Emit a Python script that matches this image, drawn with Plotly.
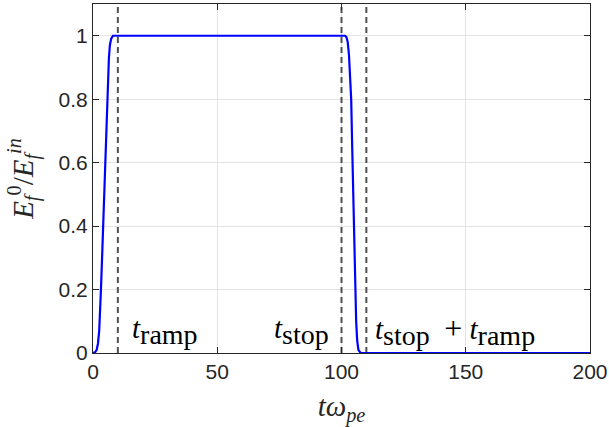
import plotly.graph_objects as go

# ---- data ----
t_values = [0, 0.8, 1.5, 2.0, 2.5, 2.9, 3.2, 3.7, 4.2, 4.7, 5.2, 5.5, 5.8, 6.1, 6.4, 6.8, 7.3, 8.0, 10,
            50, 100, 101.5, 102.0, 102.5, 103.0, 103.4, 103.9, 104.3, 104.7, 105.1, 105.5, 105.9,
            106.3, 106.8, 107.5, 108.0, 110, 150, 200]
E_values = [0, 0.002, 0.01, 0.03, 0.07, 0.13, 0.2, 0.31, 0.43, 0.55, 0.66, 0.73, 0.8, 0.87, 0.93, 0.97,
            0.99, 1.0, 1.0,
            1.0, 1.0, 1.0, 0.995, 0.98, 0.94, 0.88, 0.8, 0.65, 0.5, 0.35, 0.2, 0.1,
            0.04, 0.01, 0.002, 0.0, 0.0, 0.0, 0.0]

vline_x = [10, 100, 110]

SUB = "<sub><span style='font-size:28px'>{}</span></sub>"
label_texts = ["<i>t</i>" + SUB.format("ramp"),
               "<i>t</i>" + SUB.format("stop"),
               "<i>t</i>" + SUB.format("stop") + "&nbsp; <span style='font-size:32px'>+</span> <i>t</i>" + SUB.format("ramp")]
label_x = [15, 72, 112.5]
label_y = [0.07, 0.07, 0.07]

x_ticks = [0, 50, 100, 150, 200]
y_ticks = [0, 0.2, 0.4, 0.6, 0.8, 1]
y_tick_labels = ["0", "0.2", "0.4", "0.6", "0.8", "1"]

AX = "#262626"
serif = "Liberation Serif"

fig = go.Figure()

for xv in vline_x:
    fig.add_trace(go.Scatter(x=[xv, xv], y=[0, 1.1], mode="lines",
                             line=dict(color="#505050", width=2, dash="6px,4px"),
                             hoverinfo="skip", showlegend=False))

fig.add_trace(go.Scatter(x=t_values, y=E_values, mode="lines",
                         line=dict(color="#0000ff", width=2.2), showlegend=False))

for txt, xx, yy in zip(label_texts, label_x, label_y):
    fig.add_annotation(x=xx, y=yy, text=txt, showarrow=False, xanchor="left", yanchor="middle",
                       font=dict(family=serif, size=29, color="black"))

fig.update_layout(
    width=609, height=427,
    margin=dict(l=93, r=19, t=4, b=74),
    paper_bgcolor="white", plot_bgcolor="white",
    font=dict(family="Liberation Sans", size=21, color=AX),
    xaxis=dict(range=[0, 200], tickvals=x_ticks, ticks="inside", ticklen=6, tickcolor=AX,
               showline=True, linecolor=AX, linewidth=1, mirror="ticks", automargin=False,
               showgrid=True, gridcolor="#e3e3e3", gridwidth=1, zeroline=False,
               title=dict(text="<i>t</i><i>ω</i><sub><i>pe</i></sub>",
                          font=dict(family=serif, size=29, color=AX), standoff=18)),
    yaxis=dict(range=[0, 1.1], tickvals=y_ticks, ticktext=y_tick_labels, ticks="inside", ticklen=6,
               tickcolor=AX, showline=True, linecolor=AX, linewidth=1, mirror="ticks", automargin=False,
               showgrid=True, gridcolor="#e3e3e3", gridwidth=1, zeroline=False,
               title=dict(text="<i>E</i><sub><i>f</i></sub><sup>0</sup>/<i>E</i><sub><i>f</i></sub><sup><i>in</i></sup>",
                          font=dict(family=serif, size=29, color=AX), standoff=16)),
)

fig.write_html("out.html", config={"displayModeBar": False},
               post_script="document.body.style.margin='0px';")
